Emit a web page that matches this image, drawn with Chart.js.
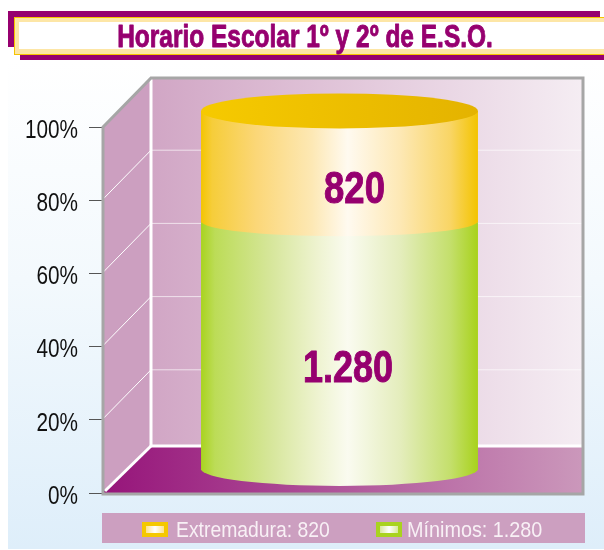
<!DOCTYPE html>
<html>
<head>
<meta charset="utf-8">
<title>Horario Escolar</title>
<script src="https://cdn.jsdelivr.net/npm/chart.js@4"></script>
<style>
html, body { margin: 0; padding: 0; background: #fff; }
canvas { display: block; }
</style>
</head>
<body>
<canvas id="mycanvas" width="604" height="550"></canvas>
<script>
var tituloGrafico = "Horario Escolar 1º y 2º de E.S.O.";
var categorias = ["1º y 2º de E.S.O."];
var extremadura = [820];
var minimos = [1280];
var etiquetaExtremadura = ["820"];
var etiquetaMinimos = ["1.280"];
var marcasEje = [0, 20, 40, 60, 80, 100];
var etiquetasEje = ["0%", "20%", "40%", "60%", "80%", "100%"];
var fuente = "'Liberation Sans', sans-serif";

// la imagen original no reparte el cilindro en proporcion lineal (1.280 llega al 74% de la altura),
// asi que su eje oculto va por tramos: valor acumulado -> fraccion de la altura del area
var tramoValores = [0, 1280, 2100];
var tramoFracciones = [0.063, 0.74, 1.044];

class EjeTramos extends Chart.LinearScale {
	getPixelForValue(value) {
		var i = value > tramoValores[1] ? 1 : 0;
		var t = (value - tramoValores[i]) / (tramoValores[i + 1] - tramoValores[i]);
		var f = tramoFracciones[i] + t * (tramoFracciones[i + 1] - tramoFracciones[i]);
		return this.bottom - f * (this.bottom - this.top);
	}
}
EjeTramos.id = "tramos";
EjeTramos.defaults = {};
Chart.register(EjeTramos);

var anchoBarra = 0.583;

function degradadoCilindro(chart, paradas) {
	var area = chart.chartArea;
	if (!area) return paradas[0][1];
	var cx = (area.left + area.right) / 2;
	var rx = (area.right - area.left) * anchoBarra / 2;
	var g = chart.ctx.createLinearGradient(cx - rx, 0, cx + rx, 0);
	paradas.forEach(function(p) { g.addColorStop(p[0], p[1]); });
	return g;
}

var paradasAmarillo = [[0, "#f4c500"], [0.04, "#f6cd3a"], [0.2, "#fbd778"], [0.4, "#fde8b4"], [0.53, "#fffaf0"], [0.72, "#fde8b4"], [0.9, "#f9d565"], [1, "#f3c400"]];
var paradasVerde = [[0, "#a9d31f"], [0.05, "#bcdc57"], [0.25, "#d6e69a"], [0.42, "#eef3d0"], [0.53, "#fafbf0"], [0.72, "#e4edbc"], [0.9, "#c4df6c"], [1, "#a8d21c"]];

// no hay fuente estrecha instalada: se comprime la Liberation Sans en horizontal
function textoEstrecho(c, texto, x, y, escala, grosor) {
	c.save();
	c.translate(x, y);
	c.scale(escala, 1);
	if (grosor) {
		c.lineWidth = grosor;
		c.strokeStyle = c.fillStyle;
		c.lineJoin = "round";
		c.strokeText(texto, 0, 0);
	}
	c.fillText(texto, 0, 0);
	c.restore();
}

function muestra(c, x, y, colorBorde, colorInterior) {
	c.fillStyle = colorBorde;
	c.fillRect(x, y, 26, 15);
	var g = c.createLinearGradient(x + 4, 0, x + 22, 0);
	g.addColorStop(0, colorInterior);
	g.addColorStop(0.5, "#ffffff");
	g.addColorStop(1, colorInterior);
	c.fillStyle = g;
	c.fillRect(x + 4, y + 4, 18, 7);
}

// fondo, rotulo del titulo y leyenda
var fondoPlugin = {
	id: "fondo",
	beforeDraw: function(chart) {
		var c = chart.ctx;
		c.save();
		c.fillStyle = "#ffffff";
		c.fillRect(0, 0, 604, 550);
		var g = c.createLinearGradient(0, 60, 0, 549);
		g.addColorStop(0, "#ffffff");
		g.addColorStop(0.45, "#f3f9fd");
		g.addColorStop(1, "#deeefa");
		c.fillStyle = g;
		c.fillRect(8, 60, 596, 489);

		c.fillStyle = "#96006f";
		c.fillRect(8, 11, 592, 7);
		c.fillRect(8, 11, 7, 36);
		c.fillRect(20, 54, 584, 6);
		c.fillStyle = "#f5c400";
		c.fillRect(14, 17, 590, 38);
		c.fillStyle = "#fde6a6";
		c.fillRect(15, 18, 589, 36);
		c.fillStyle = "#ffffff";
		c.fillRect(19, 22, 585, 27);

		c.fillStyle = "#96006f";
		c.font = "bold 32px " + fuente;
		c.textAlign = "center";
		c.textBaseline = "alphabetic";
		textoEstrecho(c, tituloGrafico, 305, 47, 0.765, 0.9);

		c.fillStyle = "#cc9fc0";
		c.fillRect(102, 513, 483, 30);
		muestra(c, 142, 522, "#f5c800", "#fde28c");
		muestra(c, 376, 522, "#a9d31f", "#d8e89c");
		c.fillStyle = "#f8f0f5";
		c.font = "22px " + fuente;
		c.textAlign = "left";
		textoEstrecho(c, "Extremadura: " + etiquetaExtremadura[0], 176, 537, 0.88);
		textoEstrecho(c, "Mínimos: " + etiquetaMinimos[0], 407, 537, 0.9);
		c.restore();
	}
};

// paredes y suelo en perspectiva, con las lineas del eje visible
var paredesPlugin = {
	id: "paredes",
	beforeDatasetsDraw: function(chart) {
		var c = chart.ctx;
		var a = chart.chartArea;
		var eje = chart.scales.y;
		var fondoX = a.left + 49;
		var dcha = a.right + 6;
		function fondoY(y) {
			if (y >= a.bottom) return y - 47;
			if (y <= a.top) return y - 49;
			return y - 50;
		}
		var arriba = fondoY(a.top);
		var abajo = fondoY(a.bottom);
		c.save();

		var g = c.createLinearGradient(fondoX, 0, dcha, 0);
		g.addColorStop(0, "#d1a6c5");
		g.addColorStop(1, "#f5edf3");
		c.fillStyle = g;
		c.fillRect(fondoX, arriba, dcha - fondoX, abajo - arriba);

		c.fillStyle = "#cc9fc0";
		c.beginPath();
		c.moveTo(a.left, a.top);
		c.lineTo(fondoX, arriba);
		c.lineTo(fondoX, abajo);
		c.lineTo(a.left, a.bottom);
		c.closePath();
		c.fill();

		g = c.createLinearGradient(a.left, 0, dcha, 0);
		g.addColorStop(0, "#96147a");
		g.addColorStop(1, "#cb98bb");
		c.fillStyle = g;
		c.beginPath();
		c.moveTo(a.left, a.bottom);
		c.lineTo(fondoX, abajo);
		c.lineTo(dcha, abajo);
		c.lineTo(dcha, a.bottom);
		c.closePath();
		c.fill();

		marcasEje.forEach(function(v) {
			var y = eje.getPixelForValue(v);
			var yf = fondoY(y);
			c.strokeStyle = "#ffffff";
			c.lineWidth = v === 0 ? 3 : 1;
			c.beginPath();
			c.moveTo(a.left + (v === 0 ? 3 : 0), y - (v === 0 ? 2 : 0));
			c.lineTo(fondoX, yf);
			c.stroke();
			if (v > 0 && v < 100) {
				c.strokeStyle = "rgba(255,255,255,0.65)";
				c.lineWidth = 1;
			}
			if (v < 100) {
				c.beginPath();
				c.moveTo(fondoX, yf);
				c.lineTo(dcha, yf);
				c.stroke();
			}
		});
		c.strokeStyle = "#ffffff";
		c.lineWidth = 3;
		c.beginPath();
		c.moveTo(fondoX, arriba);
		c.lineTo(fondoX, abajo);
		c.stroke();

		c.strokeStyle = "#a6a6a6";
		c.lineWidth = 3;
		c.lineJoin = "miter";
		c.beginPath();
		c.moveTo(a.left + 1, a.bottom + 1);
		c.lineTo(a.left + 1, a.top);
		c.lineTo(fondoX, arriba);
		c.lineTo(dcha, arriba);
		c.lineTo(dcha, a.bottom + 1);
		c.closePath();
		c.stroke();

		// rotulos del eje, en la posicion que da la escala
		c.fillStyle = "#111111";
		c.font = "25px " + fuente;
		c.textAlign = "right";
		c.textBaseline = "middle";
		marcasEje.forEach(function(v, i) {
			textoEstrecho(c, etiquetasEje[i], 78, eje.getPixelForValue(v) + 4, 0.83);
		});
		c.restore();
	}
};

// tapas curvas del cilindro y cifras, colocadas sobre las barras que dibuja Chart.js
var cilindroPlugin = {
	id: "cilindro",
	afterDatasetsDraw: function(chart) {
		var c = chart.ctx;
		var verde = chart.getDatasetMeta(0).data[0];
		var amarillo = chart.getDatasetMeta(1).data[0];
		var cx = verde.x;
		var rx = verde.width / 2;
		var g;
		c.save();

		c.fillStyle = degradadoCilindro(chart, paradasVerde);
		c.beginPath();
		c.ellipse(cx, verde.base - 1, rx, 17, 0, 0, Math.PI);
		c.fill();

		c.fillStyle = degradadoCilindro(chart, paradasAmarillo);
		c.beginPath();
		c.ellipse(cx, amarillo.base - 1, rx, 15, 0, 0, Math.PI);
		c.fill();

		g = c.createLinearGradient(cx - rx, 0, cx + rx, 0);
		g.addColorStop(0, "#f6ca00");
		g.addColorStop(1, "#e4b300");
		c.fillStyle = g;
		c.beginPath();
		c.ellipse(cx, amarillo.y, rx, 17.5, 0, 0, Math.PI * 2);
		c.fill();

		c.fillStyle = "#96006f";
		c.textAlign = "center";
		c.textBaseline = "middle";
		c.font = "bold 45px " + fuente;
		textoEstrecho(c, etiquetaMinimos[0], cx + 8.5, (verde.y + verde.base) / 2 + 24, 0.8, 1);
		textoEstrecho(c, etiquetaExtremadura[0], cx + 15, (amarillo.y + amarillo.base) / 2 + 24, 0.81, 1);
		c.restore();
	}
};

var chartdata = {
	labels: categorias,
	datasets: [
		{
			label: "Mínimos",
			data: minimos,
			yAxisID: "yCilindro",
			clip: false,
			backgroundColor: function(ctx) { return degradadoCilindro(ctx.chart, paradasVerde); },
			barPercentage: anchoBarra,
			categoryPercentage: 1,
			borderWidth: 0
		},
		{
			label: "Extremadura",
			data: extremadura,
			yAxisID: "yCilindro",
			clip: false,
			backgroundColor: function(ctx) { return degradadoCilindro(ctx.chart, paradasAmarillo); },
			barPercentage: anchoBarra,
			categoryPercentage: 1,
			borderWidth: 0
		}
	]
};

var barGraph = new Chart(document.getElementById("mycanvas"), {
	type: "bar",
	data: chartdata,
	plugins: [fondoPlugin, paredesPlugin, cilindroPlugin],
	options: {
		responsive: false,
		animation: false,
		layout: { padding: { left: 0, right: 27, top: 127, bottom: 57 } },
		scales: {
			x: { stacked: true, display: false },
			y: {
				position: "left",
				min: 0,
				max: 100,
				afterFit: function(scale) { scale.width = 102; },
				afterBuildTicks: function(scale) {
					scale.ticks = marcasEje.map(function(v) { return { value: v }; });
				},
				border: { display: false },
				grid: { drawOnChartArea: false, color: "#555555", tickLength: 13 },
				ticks: { display: false }
			},
			yCilindro: {
				type: "tramos",
				axis: "y",
				display: false,
				stacked: true,
				min: 0,
				max: 2100
			}
		},
		plugins: {
			legend: { display: false },
			tooltip: { enabled: false }
		}
	}
});
</script>
</body>
</html>
